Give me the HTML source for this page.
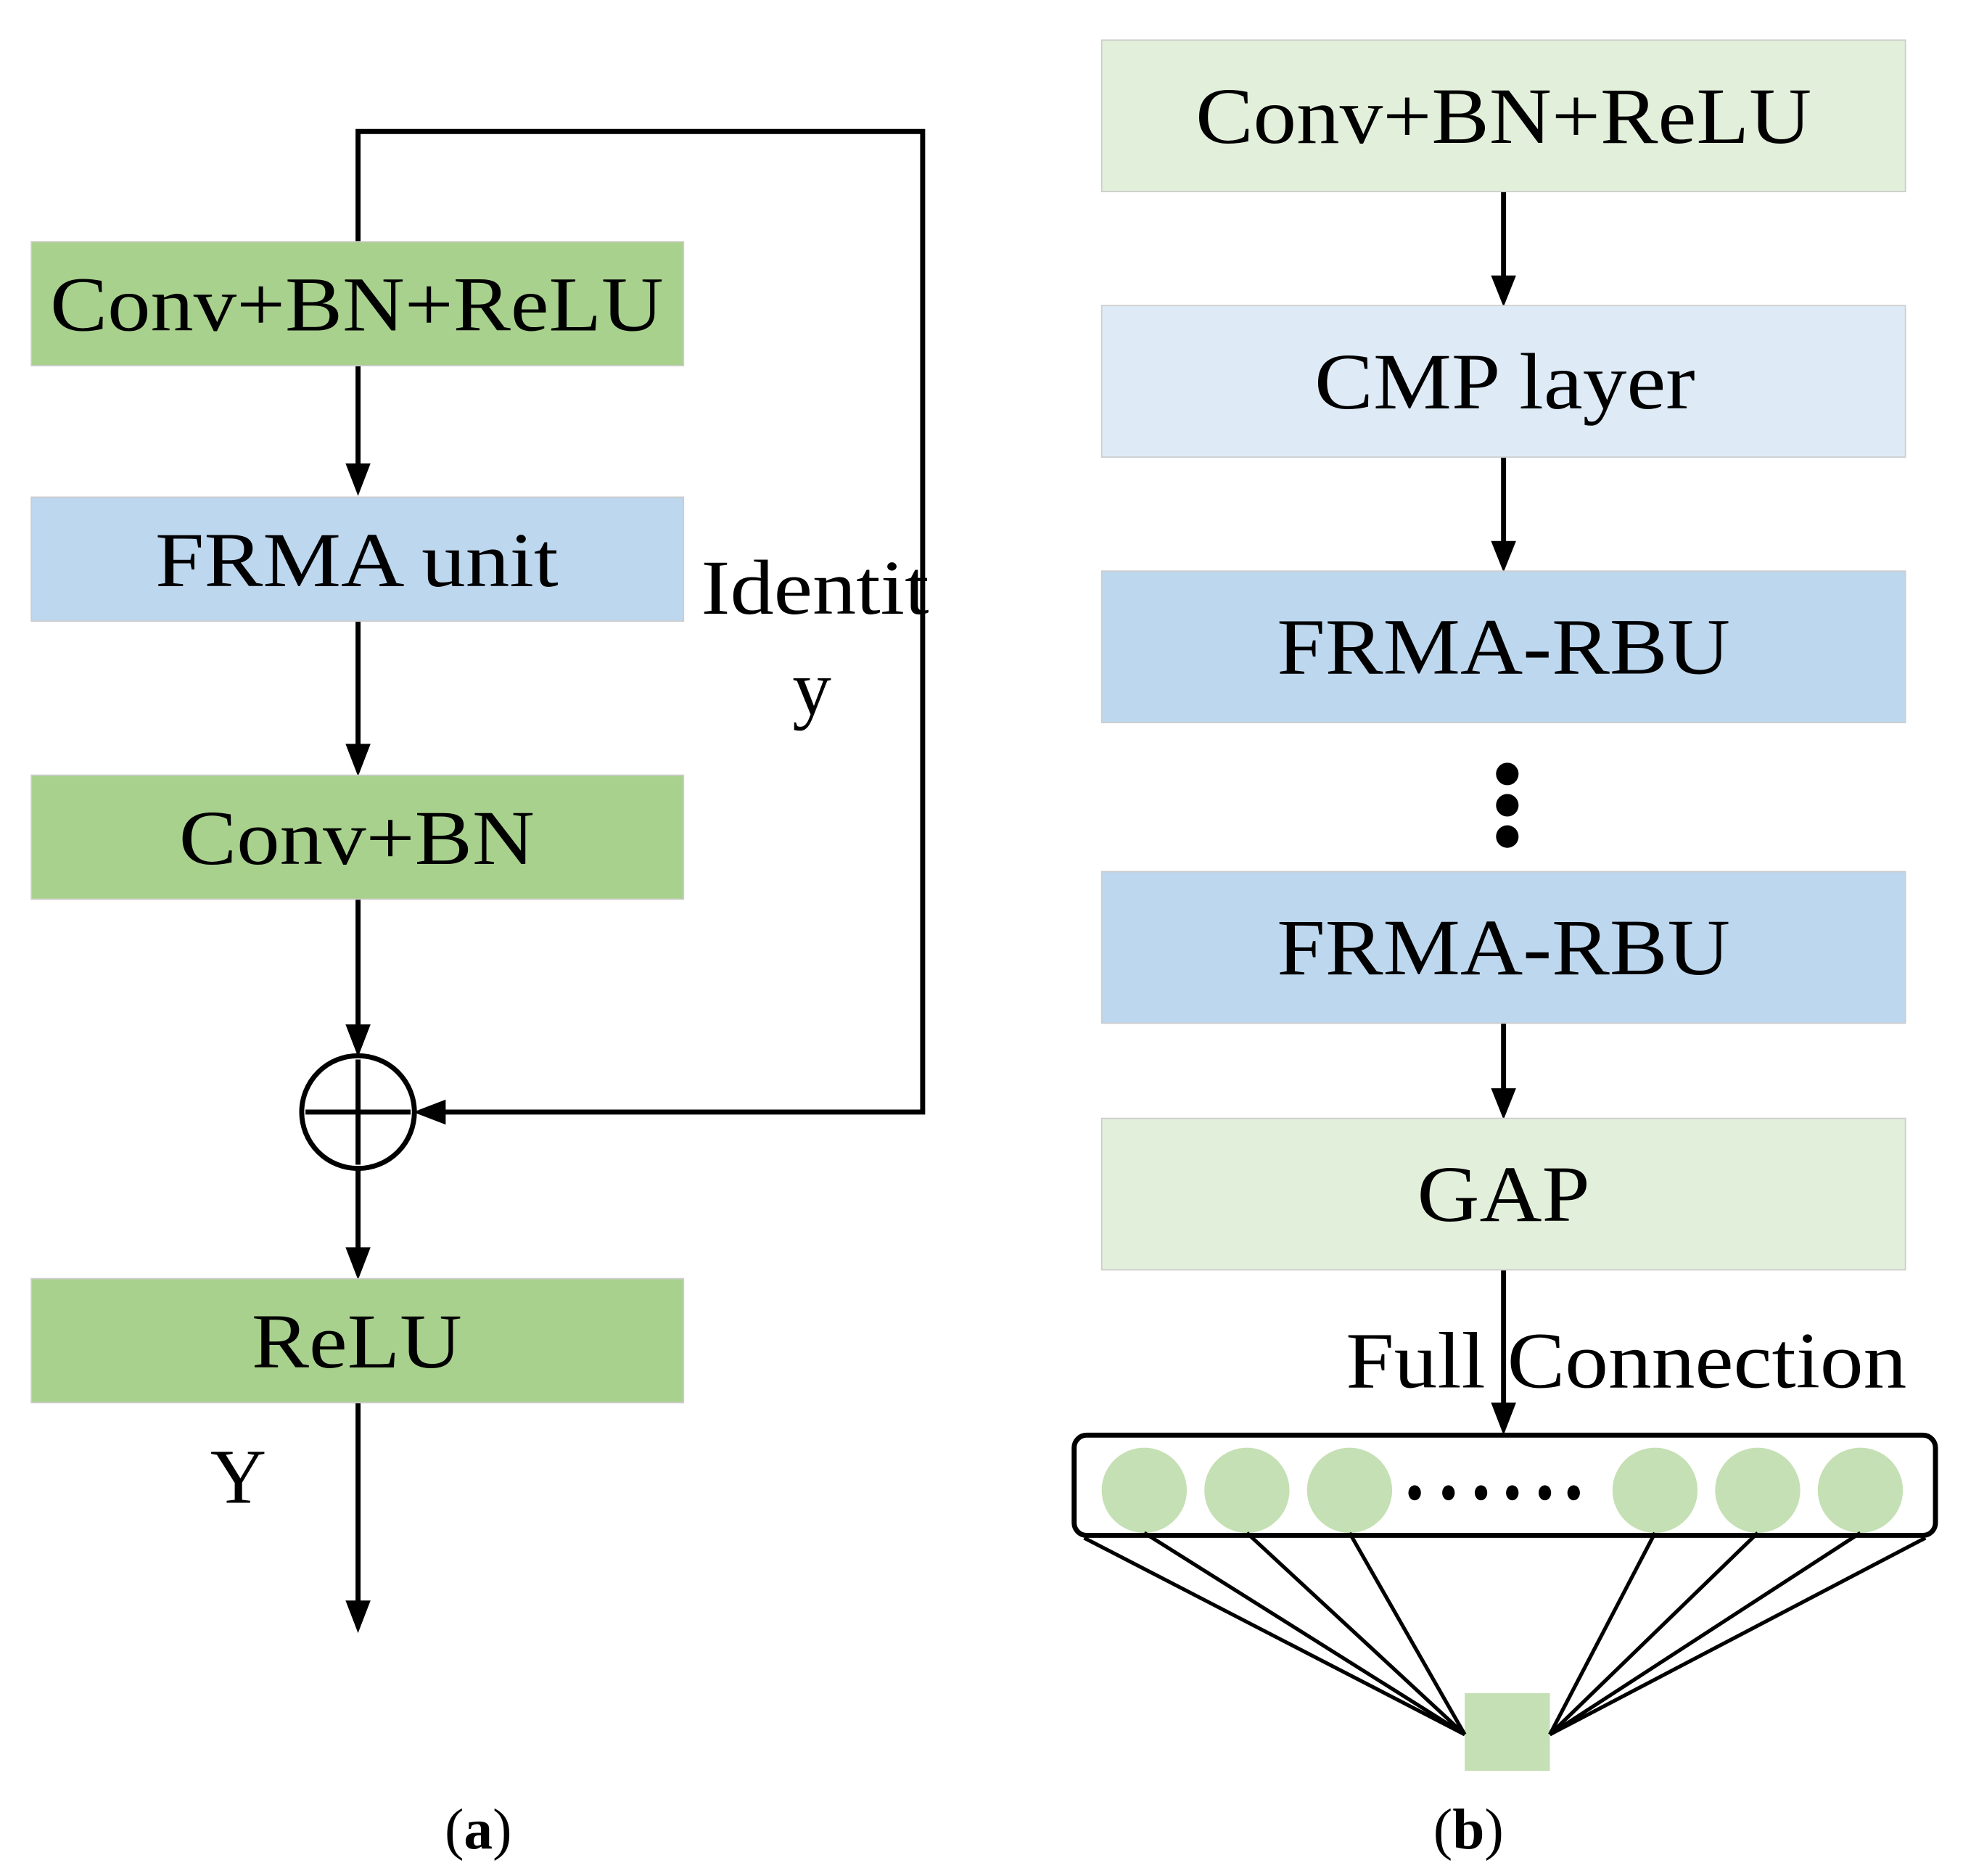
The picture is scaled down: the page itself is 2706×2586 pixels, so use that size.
<!DOCTYPE html>
<html><head><meta charset="utf-8"><style>
html,body{margin:0;padding:0;background:#fff;}
svg{display:block;}
text{font-family:"Liberation Serif",serif;fill:#000;}
</style></head><body>
<svg width="2706" height="2586" viewBox="0 0 1568 1498" preserveAspectRatio="none" xmlns="http://www.w3.org/2000/svg">
<g stroke="#000" stroke-width="4" fill="none">
<polyline points="286,193 286,105 737,105 737,888 352,888"/>
<line x1="286" y1="292" x2="286" y2="372"/>
<line x1="286" y1="496" x2="286" y2="596"/>
<line x1="286" y1="718" x2="286" y2="820"/>
<line x1="286" y1="933" x2="286" y2="998"/>
<line x1="286" y1="1120" x2="286" y2="1280"/>
<line x1="1201" y1="153" x2="1201" y2="222"/>
<line x1="1201" y1="365" x2="1201" y2="434"/>
<line x1="1201" y1="817" x2="1201" y2="871"/>
<line x1="1201" y1="1014" x2="1201" y2="1124"/>
</g>
<g fill="#000">
<polygon points="276,370 296,370 286,396"/>
<polygon points="276,594 296,594 286,620"/>
<polygon points="276,818 296,818 286,844"/>
<polygon points="276,996 296,996 286,1022"/>
<polygon points="276,1278 296,1278 286,1304"/>
<polygon points="356,878 356,898 330,888"/>
<polygon points="1191,220 1211,220 1201,245"/>
<polygon points="1191,432 1211,432 1201,457"/>
<polygon points="1191,869 1211,869 1201,894"/>
<polygon points="1191,1120 1211,1120 1201,1146"/>
</g>
<rect x="25" y="193" width="521" height="99" fill="#a9d18e" stroke="#ccc" stroke-width="1"/>
<rect x="25" y="397" width="521" height="99" fill="#bdd7ee" stroke="#ccc" stroke-width="1"/>
<rect x="25" y="619" width="521" height="99" fill="#a9d18e" stroke="#ccc" stroke-width="1"/>
<rect x="25" y="1021" width="521" height="99" fill="#a9d18e" stroke="#ccc" stroke-width="1"/>
<text x="40" y="264" font-size="62" textLength="490" lengthAdjust="spacingAndGlyphs">Conv+BN+ReLU</text>
<text x="124" y="468" font-size="62" textLength="322" lengthAdjust="spacingAndGlyphs">FRMA unit</text>
<text x="143" y="690" font-size="62" textLength="284" lengthAdjust="spacingAndGlyphs">Conv+BN</text>
<text x="201" y="1092" font-size="62" textLength="168" lengthAdjust="spacingAndGlyphs">ReLU</text>
<circle cx="286" cy="888" r="45" fill="#fff" stroke="#000" stroke-width="4"/>
<line x1="286" y1="846" x2="286" y2="930" stroke="#000" stroke-width="4"/>
<line x1="244" y1="888" x2="328" y2="888" stroke="#000" stroke-width="4"/>
<text x="560" y="490" font-size="62" textLength="182" lengthAdjust="spacingAndGlyphs">Identit</text>
<text x="633" y="570" font-size="62">y</text>
<text x="168" y="1200" font-size="62">Y</text>
<text x="382" y="1476" font-size="46" text-anchor="middle">(<tspan font-weight="bold">a</tspan>)</text>
<rect x="880" y="32" width="642" height="121" fill="#e2efda" stroke="#ccc" stroke-width="1"/>
<rect x="880" y="244" width="642" height="121" fill="#deebf7" stroke="#ccc" stroke-width="1"/>
<rect x="880" y="456" width="642" height="121" fill="#bdd7ee" stroke="#ccc" stroke-width="1"/>
<rect x="880" y="696" width="642" height="121" fill="#bdd7ee" stroke="#ccc" stroke-width="1"/>
<rect x="880" y="893" width="642" height="121" fill="#e2efda" stroke="#ccc" stroke-width="1"/>
<text x="955" y="114" font-size="64" textLength="492" lengthAdjust="spacingAndGlyphs">Conv+BN+ReLU</text>
<text x="1050" y="326" font-size="64" textLength="304" lengthAdjust="spacingAndGlyphs">CMP layer</text>
<text x="1020" y="538" font-size="64" textLength="362" lengthAdjust="spacingAndGlyphs">FRMA-RBU</text>
<text x="1020" y="778" font-size="64" textLength="362" lengthAdjust="spacingAndGlyphs">FRMA-RBU</text>
<text x="1132" y="975" font-size="64" textLength="138" lengthAdjust="spacingAndGlyphs">GAP</text>
<circle cx="1204" cy="618" r="9"/>
<circle cx="1204" cy="643" r="9"/>
<circle cx="1204" cy="668" r="9"/>
<text x="1075" y="1108" font-size="64" textLength="448" lengthAdjust="spacingAndGlyphs">Full Connection</text>
<g fill="#c5e0b4">
<circle cx="914" cy="1190" r="34"/><circle cx="996" cy="1190" r="34"/><circle cx="1078" cy="1190" r="34"/>
<circle cx="1322" cy="1190" r="34"/><circle cx="1404" cy="1190" r="34"/><circle cx="1486" cy="1190" r="34"/>
<rect x="1170" y="1352" width="68" height="62"/>
</g>
<rect x="858" y="1146" width="688" height="80" rx="10" fill="none" stroke="#000" stroke-width="4"/>
<g fill="#000">
<ellipse cx="1130" cy="1192" rx="5" ry="6"/><ellipse cx="1157" cy="1192" rx="5" ry="6"/><ellipse cx="1183" cy="1192" rx="5" ry="6"/>
<ellipse cx="1208" cy="1192" rx="5" ry="6"/><ellipse cx="1234" cy="1192" rx="5" ry="6"/><ellipse cx="1257" cy="1192" rx="5" ry="6"/>
</g>
<g stroke="#000" stroke-width="3">
<line x1="866" y1="1228" x2="1170" y2="1385"/>
<line x1="914" y1="1224" x2="1170" y2="1385"/>
<line x1="996" y1="1224" x2="1170" y2="1385"/>
<line x1="1078" y1="1224" x2="1170" y2="1385"/>
<line x1="1322" y1="1224" x2="1238" y2="1385"/>
<line x1="1404" y1="1224" x2="1238" y2="1385"/>
<line x1="1486" y1="1224" x2="1238" y2="1385"/>
<line x1="1538" y1="1228" x2="1238" y2="1385"/>
</g>
<text x="1173" y="1476" font-size="46" text-anchor="middle">(<tspan font-weight="bold">b</tspan>)</text>
</svg>
</body></html>
